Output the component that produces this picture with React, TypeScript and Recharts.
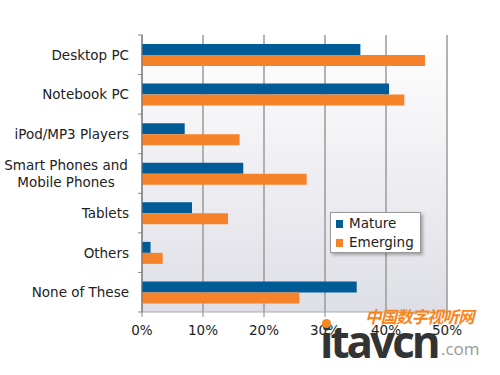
import React from "react";
import {
  Bar,
  BarChart,
  CartesianGrid,
  Legend,
  XAxis,
  YAxis,
} from "recharts";

const categories = [
  "Desktop PC",
  "Notebook PC",
  "iPod/MP3 Players",
  "Smart Phones and\nMobile Phones",
  "Tablets",
  "Others",
  "None of These",
];
const mature = [35.8, 40.5, 7.0, 16.6, 8.2, 1.4, 35.2];
const emerging = [46.4, 43.0, 16.0, 27.0, 14.1, 3.4, 25.8];
const xTicks = [0, 10, 20, 30, 40, 50];
const seriesNames = ["Mature", "Emerging"];
const seriesColors = ["#005b97", "#f6832a"];

const data = categories.map((name, i) => ({
  name,
  Mature: mature[i],
  Emerging: emerging[i],
}));

const W = 500;
const H = 375;
const M = { top: 35, right: 53, bottom: 33, left: 0 };
const band = (H - M.top - M.bottom - 30) / categories.length;
const font = "'DejaVu Sans', Verdana, sans-serif";

const CategoryTick = (props: any) => {
  const { x, y, payload, index } = props;
  const lines = String(payload.value).split("\n");
  return (
    <g>
      <line x1={x + 4} x2={x + 9} y1={y - band / 2} y2={y - band / 2} stroke="#888" />
      {index === categories.length - 1 && (
        <line x1={x + 4} x2={x + 9} y1={y + band / 2} y2={y + band / 2} stroke="#888" />
      )}
      {lines.length === 1 ? (
        <text x={x - 5} y={y} dy={5} textAnchor="end" fill="#222" fontSize={13.5} fontFamily={font}>
          {lines[0]}
        </text>
      ) : (
        lines.map((l, i) => (
          <text
            key={i}
            x={x - 68}
            y={y + (i - 0.5) * 17}
            dy={5}
            textAnchor="middle"
            fill="#222"
            fontSize={13.5}
            fontFamily={font}
          >
            {l}
          </text>
        ))
      )}
    </g>
  );
};

const LegendBox = () => (
  <div
    style={{
      width: 91,
      height: 41,
      boxSizing: "border-box",
      background: "#fff",
      border: "1px solid #999",
      boxShadow: "2px 2px 3px rgba(0,0,0,0.3)",
      fontFamily: font,
      fontSize: 13.5,
      padding: "1px 0 0 5px",
      lineHeight: "19px",
      color: "#222",
      textAlign: "left",
      whiteSpace: "nowrap",
    }}
  >
    {seriesNames.map((n, i) => (
      <div key={n}>
        <span
          style={{
            display: "inline-block",
            width: 7,
            height: 8,
            marginRight: 6,
            background: seriesColors[i],
          }}
        />
        {n}
      </div>
    ))}
  </div>
);

const Watermark = () => (
  <div style={{ position: "absolute", left: 0, top: 0, width: W, height: H, pointerEvents: "none" }}>
    <div
      style={{
        position: "absolute",
        left: 365,
        top: 304,
        fontFamily: "'Noto Sans CJK SC', sans-serif",
        fontWeight: 700,
        fontStyle: "italic",
        fontSize: 16.5,
        color: "#f7861f",
        letterSpacing: -1,
        lineHeight: "24px",
      }}
    >
      中国数字视听网
    </div>
    <div
      style={{
        position: "absolute",
        left: 320,
        top: 311,
        fontFamily: "'Open Sans', sans-serif",
        fontWeight: 700,
        fontSize: 44,
        color: "#333",
        letterSpacing: -3,
      }}
    >
      itavcn
    </div>
    <div
      style={{
        position: "absolute",
        left: 322,
        top: 319,
        width: 9,
        height: 9,
        borderRadius: 5,
        background: "#f7861f",
      }}
    />
    <div
      style={{
        position: "absolute",
        left: 441,
        top: 337,
        fontFamily: "'Open Sans', sans-serif",
        fontSize: 17,
        color: "#999",
      }}
    >
      .com
    </div>
  </div>
);

export default function App() {
  return (
    <div style={{ position: "absolute", left: 0, top: 0, width: W, height: H, background: "#fff" }}>
      <BarChart
        width={W}
        height={H}
        data={data}
        layout="vertical"
        margin={M}
        barGap={0}
        barSize={11}
        barCategoryGap={9}
      >
        <defs>
          <linearGradient id="plotBg" x1="0" y1="0" x2="0" y2="1">
            <stop offset="0%" stopColor="#ffffff" />
            <stop offset="100%" stopColor="#dedee6" />
          </linearGradient>
        </defs>
        <CartesianGrid
          horizontal={false}
          stroke="#9a9a9a"
          strokeWidth={1.5}
          fill="url(#plotBg)"
          fillOpacity={1}
        />
        <XAxis
          type="number"
          domain={[0, 50]}
          ticks={xTicks}
          tickFormatter={(v) => `${v}%`}
          axisLine={{ stroke: "#aaa" }}
          tickLine={{ stroke: "#888" }}
          tickSize={5}
          tick={{ fill: "#222", fontSize: 13.5, fontFamily: font, dy: 6 }}
          height={30}
        />
        <XAxis
          xAxisId="top"
          orientation="top"
          type="number"
          domain={[0, 50]}
          tick={false}
          tickLine={false}
          axisLine={{ stroke: "#aaa", strokeWidth: 1.5 }}
          height={0}
        />
        <YAxis
          type="category"
          dataKey="name"
          width={142}
          axisLine={{ stroke: "#777" }}
          tickLine={false}
          tick={<CategoryTick />}
          interval={0}
        />
        <Bar dataKey="Mature" fill={seriesColors[0]} isAnimationActive={false} />
        <Bar dataKey="Emerging" fill={seriesColors[1]} isAnimationActive={false} />
        <Legend
          layout="vertical"
          align="center"
          verticalAlign="middle"
          content={<LegendBox />}
          wrapperStyle={{ left: 330, top: 212, width: 91, height: 41 }}
        />
      </BarChart>
      <Watermark />
    </div>
  );
}
